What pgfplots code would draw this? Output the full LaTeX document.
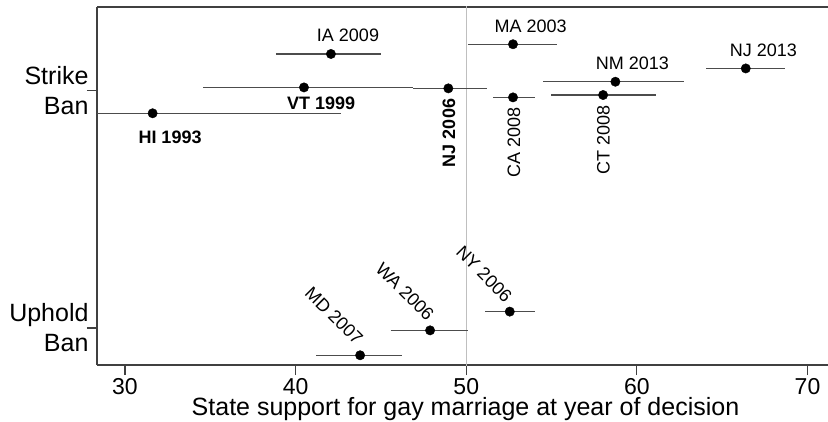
\documentclass[border=0pt]{standalone}
\usepackage{pgfplots}
\pgfplotsset{compat=1.18}
\usepackage{fontspec}
\setmainfont{Liberation Sans}
\newcommand{\lbl}{\fontsize{18bp}{21bp}\selectfont}
\begin{document}
\begin{tikzpicture}
\begin{axis}[
 scale only axis, width=731bp, height=358bp,
 xmin=28.36, xmax=71.2, ymin=-0.156, ymax=1.353,
 axis x line*=box, axis y line*=left,
 axis line style={draw=black!75, line width=1.2bp},
 xtick={30,40,50,60,70}, xtick pos=left,
 tick align=outside, major tick length=10bp,
 tick style={draw=black!75, line width=1.2bp},
 ytick={0,1}, yticklabels={{Uphold\\Ban},{Strike\\Ban}},
 yticklabel style={align=right, xshift=5bp, font=\fontsize{25bp}{30bp}\selectfont},
 xticklabel style={font=\fontsize{23bp}{27bp}\selectfont},
 xlabel={State support for gay marriage at year of decision},
 xlabel style={at={(axis description cs:0.5,0)}, anchor=base, yshift=-50bp, xshift=3bp,
   font=\fontsize{25bp}{30bp}\selectfont},
 /pgf/number format/assume math mode=true,
 clip=true,
 ebar/.style={draw=black!70, line width=1.3bp, mark=none},
]
\addplot[draw=black!25, line width=1bp, mark=none] coordinates {(50,-0.2) (50,1.4)};
% error bars
\addplot[ebar] coordinates {(20.58,0.905) (42.66,0.905)};   % HI 1993
\addplot[ebar] coordinates {(34.59,1.014) (46.88,1.014)};   % VT 1999
\addplot[ebar] coordinates {(38.85,1.155) (44.99,1.155)};   % IA 2009
\addplot[ebar] coordinates {(46.88,1.010) (51.23,1.010)};   % NJ 2006
\addplot[ebar] coordinates {(50.10,1.196) (55.34,1.196)};   % MA 2003
\addplot[ebar] coordinates {(51.59,0.972) (54.01,0.972)};   % CA 2008
\addplot[ebar] coordinates {(54.52,1.038) (62.77,1.038)};   % NM 2013
\addplot[ebar] coordinates {(54.98,0.982) (61.14,0.982)};   % CT 2008
\addplot[ebar] coordinates {(64.05,1.094) (68.70,1.094)};   % NJ 2013
\addplot[ebar] coordinates {(41.20,-0.115) (46.25,-0.115)}; % MD 2007
\addplot[ebar] coordinates {(45.57,-0.010) (50.10,-0.010)}; % WA 2006
\addplot[ebar] coordinates {(51.10,0.069) (54.03,0.069)};   % NY 2006
% points
\addplot[only marks, mark=*, mark size=4.7bp, draw=black, fill=black] coordinates {
 (31.62,0.905) (40.49,1.014) (42.07,1.155) (48.95,1.010) (52.74,1.196)
 (52.74,0.972) (58.74,1.038) (58.02,0.982) (66.38,1.094)
 (43.78,-0.115) (47.88,-0.010) (52.55,0.069)};
% labels
\node[font=\lbl] at (axis cs:43.07,1.235) {IA 2009};
\node[font=\lbl\bfseries] at (axis cs:41.49,0.948) {VT 1999};
\node[font=\lbl\bfseries] at (axis cs:32.64,0.805) {HI 1993};
\node[font=\lbl] at (axis cs:53.78,1.273) {MA 2003};
\node[font=\lbl\bfseries, rotate=90] at (axis cs:48.99,0.822) {NJ 2006};
\node[font=\lbl, rotate=90] at (axis cs:52.80,0.784) {CA 2008};
\node[font=\lbl] at (axis cs:59.74,1.115) {NM 2013};
\node[font=\lbl, rotate=90] at (axis cs:58.04,0.792) {CT 2008};
\node[font=\lbl] at (axis cs:67.41,1.171) {NJ 2013};
\node[font=\lbl, rotate=-45] at (axis cs:42.25,0.051) {MD 2007};
\node[font=\lbl, rotate=-45] at (axis cs:46.41,0.153) {WA 2006};
\node[font=\lbl, rotate=-45] at (axis cs:51.05,0.227) {NY 2006};
\coordinate (SW) at (rel axis cs:0,0);
\coordinate (NE) at (rel axis cs:1,1);
\end{axis}
\pgfresetboundingbox
\path ([shift={(-97bp,-57bp)}]SW) rectangle ([shift={(0bp,7bp)}]NE);
\end{tikzpicture}
\end{document}
